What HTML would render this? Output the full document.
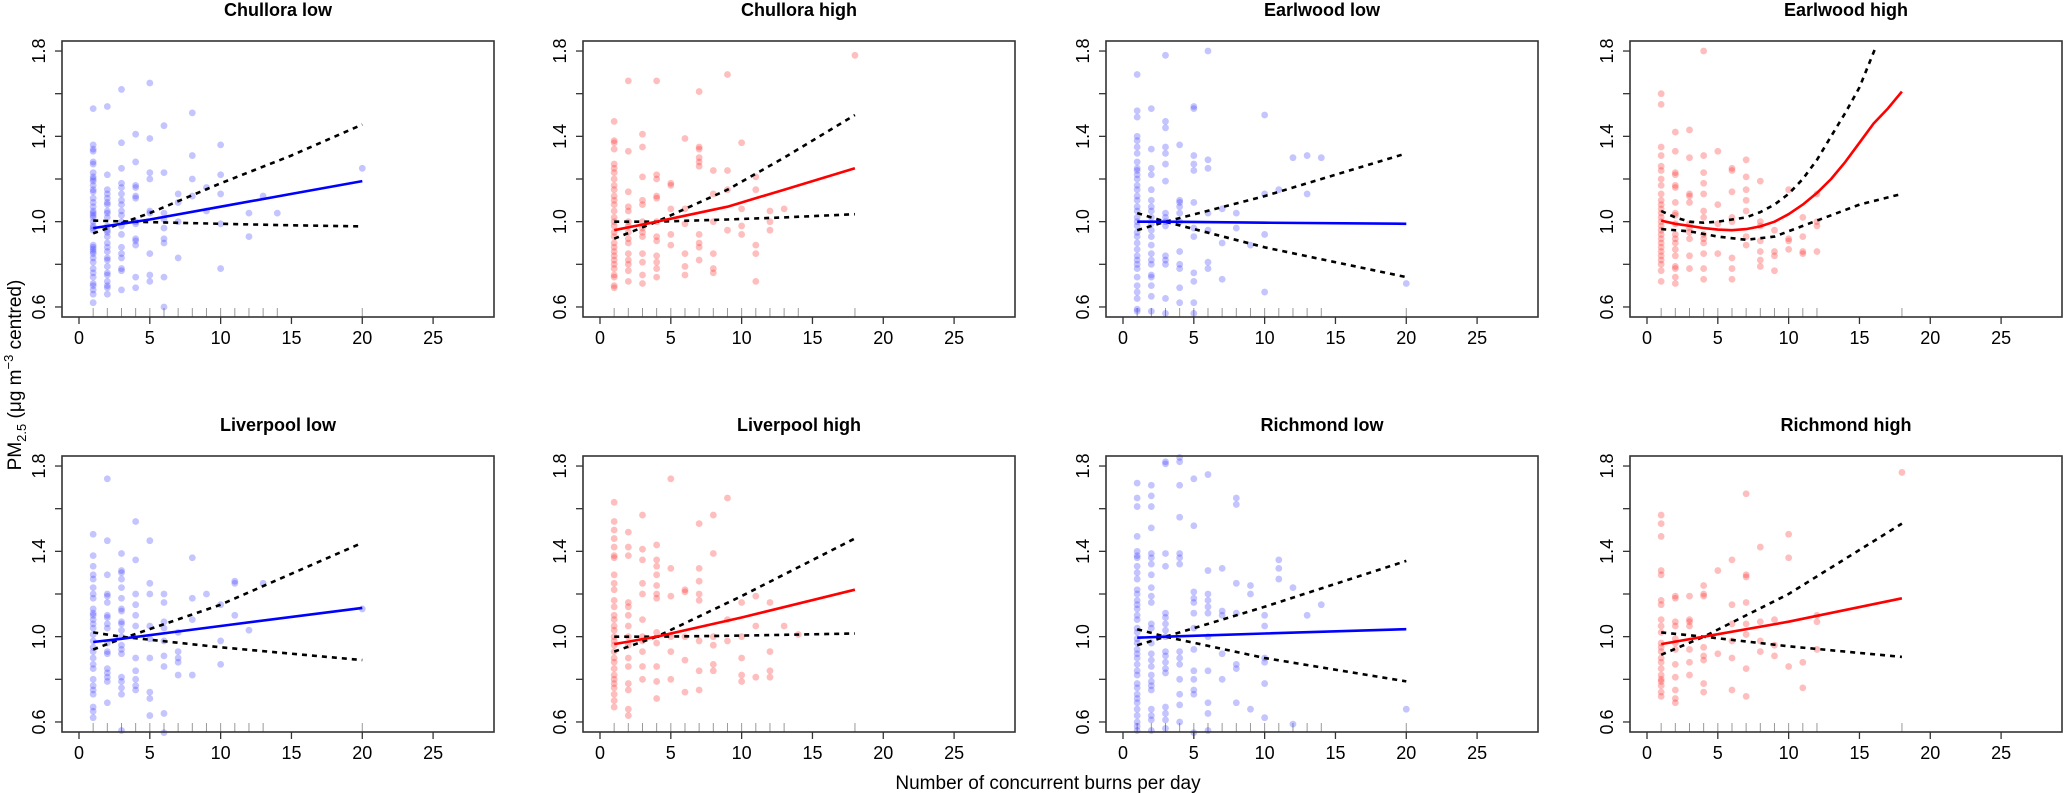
<!DOCTYPE html>
<html><head><meta charset="utf-8">
<style>
html,body{margin:0;padding:0;background:#fff;}
svg{display:block;font-family:"Liberation Sans",Arial,sans-serif;}
</style></head>
<body>
<svg id="chart" width="2067" height="793" viewBox="0 0 2067 793" xmlns="http://www.w3.org/2000/svg">
<text x="1048" y="789" font-size="19" text-anchor="middle">Number of concurrent burns per day</text>
<text transform="translate(21,375) rotate(-90)" font-size="19" text-anchor="middle">PM<tspan font-size="13" dy="5">2.5</tspan><tspan dy="-5"> (μg m</tspan><tspan font-size="13" dy="-8">−3</tspan><tspan dy="8"> centred)</tspan></text>
</svg>
<script>
const titles = ["Chullora low","Chullora high","Earlwood low","Earlwood high","Liverpool low","Liverpool high","Richmond low","Richmond high"];
const colors = ["blue","red","blue","red","blue","red","blue","red"];
const xTicks = [0,5,10,15,20,25];
const yTicks = [0.6,0.8,1.0,1.2,1.4,1.6,1.8];
const yLabels = ["0.6","1.4","1.0","1.8"];
const pts1 = {1:[1.53,1.36,1.34,1.33,1.28,1.27,1.23,1.21,1.2,1.19,1.17,1.15,1.14,1.11,1.09,1.07,1.05,1.04,1.03,1.02,1.0,0.98,0.97,0.96,0.89,0.88,0.87,0.86,0.85,0.83,0.81,0.78,0.76,0.74,0.71,0.7,0.68,0.66,0.62],2:[1.54,1.22,1.15,1.13,1.11,1.09,1.08,1.05,1.04,1.02,0.98,0.96,0.95,0.93,0.9,0.88,0.86,0.83,0.82,0.79,0.76,0.75,0.72,0.7,0.69,0.66],3:[1.62,1.37,1.25,1.18,1.16,1.13,1.1,1.08,1.05,1.03,1.0,0.98,0.94,0.88,0.85,0.83,0.78,0.77,0.68],4:[1.41,1.28,1.17,1.16,1.12,1.11,1.0,0.99,0.92,0.91,0.89,0.74,0.69],5:[1.65,1.39,1.23,1.2,1.05,1.04,0.85,0.75,0.72],6:[1.45,1.23,1.04,1.01,0.97,0.92,0.9,0.74,0.6],7:[1.13,1.09,1.0,0.83],8:[1.51,1.31,1.2,1.12],9:[1.16,1.05],10:[1.36,1.22,1.13,0.99,0.78],12:[1.04,0.93],13:[1.12],14:[1.04],20:[1.25]};
const pts2 = {1:[1.47,1.38,1.37,1.34,1.27,1.25,1.23,1.2,1.17,1.15,1.12,1.1,1.08,1.05,1.02,1.0,0.98,0.95,0.93,0.9,0.88,0.86,0.84,0.82,0.8,0.78,0.75,0.74,0.7,0.69],2:[1.66,1.33,1.14,1.07,1.05,1.0,0.98,0.95,0.92,0.9,0.85,0.82,0.8,0.77,0.72],3:[1.41,1.35,1.21,1.1,1.08,1.0,0.97,0.95,0.93,0.85,0.81,0.75,0.71],4:[1.66,1.22,1.2,1.12,1.11,1.0,0.93,0.91,0.84,0.81,0.78,0.74],5:[1.18,1.17,1.06,0.94,0.89],6:[1.39,1.06,0.99,0.85,0.79,0.75],7:[1.61,1.35,1.34,1.3,1.28,1.26,0.94,0.9,0.88,0.82],8:[1.24,1.13,1.0,0.85,0.78,0.76],9:[1.69,1.24,1.15,0.96],10:[1.37,1.06,0.98,0.94],11:[1.21,1.15,0.89,0.85,0.72],12:[1.05,1.0,0.96],13:[1.06],18:[1.78]};
const pts3 = {1:[1.69,1.52,1.49,1.4,1.38,1.35,1.32,1.28,1.25,1.24,1.22,1.2,1.17,1.15,1.12,1.1,1.07,1.05,1.02,1.0,0.98,0.95,0.93,0.9,0.87,0.84,0.82,0.8,0.78,0.74,0.7,0.67,0.64,0.59,0.58],2:[1.53,1.34,1.25,1.22,1.15,1.1,1.07,1.05,1.02,0.99,0.96,0.93,0.89,0.85,0.82,0.8,0.75,0.74,0.7,0.65,0.58],3:[1.78,1.47,1.44,1.35,1.32,1.27,1.19,1.04,1.02,1.0,0.98,0.84,0.82,0.8,0.64,0.57],4:[1.36,1.1,1.09,1.07,1.04,1.0,0.86,0.8,0.78,0.69,0.62],5:[1.54,1.53,1.31,1.27,1.24,1.09,0.97,0.93,0.76,0.72,0.62,0.57],6:[1.8,1.29,1.25,1.04,0.96,0.81,0.78],7:[1.06,0.9,0.73],8:[1.04,0.97],9:[0.89],10:[1.5,1.13,0.94,0.67],11:[1.15],12:[1.3],13:[1.31,1.13],14:[1.3],20:[0.71]};
const pts4 = {1:[1.6,1.55,1.35,1.31,1.26,1.24,1.2,1.17,1.13,1.1,1.08,1.06,1.04,1.02,1.0,0.98,0.96,0.94,0.92,0.9,0.88,0.86,0.84,0.82,0.8,0.77,0.72],2:[1.42,1.33,1.23,1.22,1.17,1.16,1.09,1.04,1.03,0.99,0.94,0.92,0.9,0.87,0.84,0.79,0.78,0.74,0.71],3:[1.43,1.3,1.13,1.12,1.09,0.99,0.97,0.95,0.92,0.84,0.78],4:[1.8,1.31,1.23,1.18,1.13,1.05,1.02,0.94,0.92,0.9,0.85,0.78,0.73],5:[1.33,1.08,0.99,0.85],6:[1.25,1.24,1.14,1.02,1.0,0.83,0.78,0.73],7:[1.29,1.21,1.15,1.1,1.05,0.93,0.89],8:[1.19,1.0,0.98,0.91,0.86,0.82,0.79],9:[0.96,0.86,0.84,0.77],10:[1.15,0.92,0.91,0.87],11:[1.02,0.93,0.86,0.85],12:[1.13,1.0,0.98,0.86]};
const pts5 = {1:[1.48,1.38,1.33,1.29,1.27,1.23,1.2,1.18,1.13,1.11,1.1,1.08,1.06,1.04,1.01,0.98,0.95,0.93,0.9,0.87,0.85,0.8,0.77,0.75,0.73,0.67,0.65,0.62],2:[1.74,1.45,1.29,1.2,1.19,1.16,1.1,1.09,1.06,1.04,0.97,0.93,0.92,0.85,0.83,0.81,0.79,0.69],3:[1.39,1.31,1.3,1.27,1.23,1.18,1.13,1.12,1.07,1.06,1.03,1.0,0.96,0.94,0.92,0.81,0.79,0.76,0.73,0.56],4:[1.54,1.36,1.2,1.15,1.1,1.05,0.9,0.84,0.8,0.77,0.75],5:[1.45,1.25,1.2,1.05,0.99,0.9,0.74,0.71,0.63],6:[1.2,1.16,1.07,1.04,0.98,0.91,0.86,0.64,0.55],7:[1.02,0.93,0.9,0.88,0.82],8:[1.37,1.18,1.08,0.82],9:[1.2],10:[1.15,0.98,0.87],11:[1.26,1.25,1.1],12:[1.03],13:[1.25],20:[1.13]};
const pts6 = {1:[1.63,1.54,1.5,1.46,1.42,1.38,1.37,1.29,1.25,1.22,1.17,1.14,1.1,1.08,1.05,1.03,1.0,0.98,0.96,0.93,0.9,0.88,0.85,0.82,0.8,0.78,0.76,0.73,0.7,0.67],2:[1.49,1.42,1.38,1.16,1.14,1.1,1.05,1.0,0.96,0.9,0.86,0.78,0.75,0.66,0.63],3:[1.57,1.41,1.36,1.25,1.2,1.08,1.0,0.98,0.93,0.86,0.8],4:[1.43,1.36,1.33,1.29,1.24,1.2,1.18,1.02,0.97,0.86,0.79,0.71],5:[1.74,1.32,1.19,1.0,0.93,0.8],6:[1.22,1.21,1.0,0.89,0.74],7:[1.53,1.32,1.26,1.2,1.17,0.98,0.84,0.75],8:[1.57,1.39,1.0,0.96,0.87,0.84],9:[1.65,1.08,0.98],10:[1.16,1.0,0.9,0.82,0.79],11:[1.19,1.05,0.81],12:[1.16,0.93,0.84,0.81],13:[1.05],14:[1.01]};
const pts7 = {1:[1.72,1.65,1.61,1.47,1.4,1.38,1.37,1.33,1.3,1.27,1.22,1.2,1.17,1.15,1.13,1.1,1.08,1.04,1.02,0.99,0.97,0.94,0.92,0.9,0.87,0.84,0.82,0.78,0.76,0.73,0.71,0.69,0.66,0.63,0.6,0.58,0.56],2:[1.71,1.66,1.61,1.51,1.39,1.37,1.34,1.29,1.23,1.19,1.16,1.06,1.04,0.97,0.92,0.89,0.86,0.82,0.79,0.77,0.75,0.66,0.63,0.61,0.56],3:[1.82,1.81,1.39,1.33,1.11,1.09,1.06,1.03,1.0,0.93,0.91,0.88,0.85,0.83,0.67,0.64,0.61,0.57],4:[1.84,1.82,1.71,1.56,1.39,1.37,1.34,0.93,0.9,0.87,0.8,0.73,0.68,0.6],5:[1.74,1.52,1.21,1.18,1.16,1.11,1.04,0.94,0.84,0.8,0.75,0.73,0.55],6:[1.76,1.31,1.2,1.17,1.14,1.11,1.0,0.84,0.69,0.64,0.56],7:[1.32,1.12,1.1,0.92,0.8],8:[1.65,1.62,1.25,1.11,0.87,0.85,0.69],9:[1.24,1.2,0.66],10:[1.1,1.05,0.9,0.88,0.78,0.62],11:[1.36,1.32,1.27],12:[1.23,0.59],13:[1.1],14:[1.15],20:[0.66]};
const pts8 = {1:[1.57,1.53,1.47,1.31,1.29,1.17,1.15,1.08,1.05,1.02,0.97,0.95,0.93,0.9,0.88,0.85,0.82,0.8,0.79,0.77,0.74,0.72],2:[1.19,1.18,1.07,1.05,0.99,0.97,0.94,0.87,0.81,0.75,0.71,0.69],3:[1.19,1.08,1.07,1.05,0.94,0.88,0.82],4:[1.24,1.2,1.19,0.95,0.91,0.89,0.78,0.74],5:[1.31,0.92],6:[1.36,1.15,1.06,0.98,0.9,0.75],7:[1.67,1.29,1.28,1.16,1.06,1.01,0.85,0.72],8:[1.42,1.07,0.98,0.93],9:[1.08,0.96,0.91],10:[1.48,1.37,0.86],11:[0.88,0.76],12:[1.1,1.07,0.94],18:[1.77]};
const points = [pts1,pts2,pts3,pts4,pts5,pts6,pts7,pts8];
const fitX = [[1,5,10,15,20],[1,4,9,13,18],[1,3,10,20],[1,2,3,4,5,6,7,8,9,10,11,12,13,14,15,16,17,18],[1,3,10,20],[1,4,10,18],[1,3,10,20],[1,4,10,18]];
const fitY = [[0.97,1.01,1.07,1.13,1.19],[0.96,1.0,1.07,1.15,1.25],[1.0,1.0,0.995,0.99],[1.005,0.99,0.98,0.97,0.963,0.96,0.965,0.978,1.0,1.035,1.08,1.135,1.2,1.28,1.37,1.46,1.53,1.61],[0.975,0.99,1.05,1.135],[0.965,1.0,1.09,1.22],[0.995,1.0,1.015,1.035],[0.965,1.0,1.07,1.18]];
const hiX = [[1,5,10,15,20],[1,4,9,13,18],[1,3,10,20],[1,2,3,4,5,6,7,8,9,10,11,12,13,14,15,16.1],[1,3,10,20],[1,4,10,18],[1,3,10,20],[1,4,10,18]];
const hiY = [[0.945,1.04,1.18,1.31,1.455],[0.92,1.0,1.15,1.3,1.5],[0.96,1.0,1.12,1.32],[1.05,1.02,1.0,0.995,1.0,1.01,1.02,1.045,1.08,1.13,1.2,1.29,1.4,1.51,1.63,1.81],[0.94,0.99,1.15,1.44],[0.93,1.0,1.19,1.46],[0.96,1.0,1.14,1.355],[0.915,1.0,1.2,1.53]];
const loX = [[1,5,10,15,20],[1,4,9,13,18],[1,3,10,20],[1,3,5,7,9,11,13,15,18],[1,3,10,20],[1,4,10,18],[1,3,10,20],[1,4,10,18]];
const loY = [[1.005,0.998,0.99,0.983,0.978],[1.0,1.0,1.01,1.02,1.035],[1.04,1.0,0.88,0.74],[0.965,0.955,0.93,0.915,0.93,0.98,1.03,1.08,1.13],[1.02,1.0,0.95,0.89],[1.0,1.0,1.005,1.015],[1.035,1.0,0.9,0.79],[1.02,1.0,0.955,0.905]];
const rugs = [[1,2,3,4,5,6,7,8,9,10,11,12,13,14,20],[1,2,3,4,5,6,7,8,9,10,11,12,13,14,18],[1,2,3,4,5,6,7,8,9,10,11,12,13,14,20],[1,2,3,4,5,6,7,8,9,10,11,12,18],[1,2,3,4,5,6,7,8,9,10,11,12,13,20],[1,2,3,4,5,6,7,8,9,10,11,12,13,18],[1,2,3,4,5,6,7,8,9,10,11,12,13,14,20],[1,2,3,4,5,6,7,8,9,10,11,12,18]];

const NS = "http://www.w3.org/2000/svg";
const svg = document.getElementById('chart');
const lefts = [62,583,1106,1630];
const tops = [41,456];
const W = 432, H = 276;
const XMIN = -1.2, XMAX = 29.3, YMIN = 0.553, YMAX = 1.847;
function mk(tag, attrs, parent){const e=document.createElementNS(NS,tag);for(const k in attrs)e.setAttribute(k,attrs[k]);(parent||svg).appendChild(e);return e;}

for (let p=0;p<8;p++){
  const L = lefts[p%4], T = tops[Math.floor(p/4)];
  const sx = v => L + (v-XMIN)/(XMAX-XMIN)*W;
  const sy = v => T + H - (v-YMIN)/(YMAX-YMIN)*H;
  const g = mk('g',{});
  
  
  const t = mk('text',{x:L+W/2,y:T-25,'font-size':18,'font-weight':'bold','text-anchor':'middle'},g);
  t.textContent = titles[p];
  
  
  rugs[p].forEach(v=>{
    const r = mk('line',{x1:sx(v),x2:sx(v),y1:T+H,y2:T+H-9,stroke:'#999','stroke-width':1},g);
    
    
  });
  const fill = colors[p]==='blue' ? 'rgba(60,60,255,0.3)' : 'rgba(255,40,40,0.3)';
  const pts = points[p];
  Object.keys(pts).forEach(k=>{
    pts[k].forEach(v=>{
      const c = mk('circle',{cx:sx(+k),cy:sy(v),r:3.4,fill:fill},g);
      
      
    });
  });
  const path = (xs,ys) => xs.map((x,i)=>(i?'L':'M')+sx(x).toFixed(1)+','+sy(ys[i]).toFixed(1)).join(' ');
  const hi = mk('path',{d:path(hiX[p],hiY[p]),fill:'none',stroke:'#000','stroke-width':2.6,'stroke-dasharray':'5,5','stroke-linejoin':'round'},g);
  
  
  const lo = mk('path',{d:path(loX[p],loY[p]),fill:'none',stroke:'#000','stroke-width':2.6,'stroke-dasharray':'5,5','stroke-linejoin':'round'},g);
  
  
  const fit = mk('path',{d:path(fitX[p],fitY[p]),fill:'none',stroke:colors[p]==='blue'?'#0000ff':'#ff0000','stroke-width':2.6,'stroke-linejoin':'round'},g);
  
  
  const box = mk('rect',{x:L,y:T,width:W,height:H,fill:'none',stroke:'#333','stroke-width':1.6},g);
  
  
  xTicks.forEach(v=>{
    mk('line',{x1:sx(v),x2:sx(v),y1:T+H,y2:T+H+7,stroke:'#333','stroke-width':1.3},g);
    const lb = mk('text',{x:sx(v),y:T+H+27,'font-size':18,'text-anchor':'middle'},g);
    lb.textContent = v;
    
    
  });
  yTicks.forEach(v=>{
    mk('line',{x1:L,x2:L-7,y1:sy(v),y2:sy(v),stroke:'#333','stroke-width':1.3},g);
  });
  yLabels.forEach(s=>{
    const lb = mk('text',{transform:'translate('+(L-17)+','+sy(+s)+') rotate(-90)','font-size':18,'text-anchor':'middle'},g);
    lb.textContent = s;
    
    
  });
}
</script>
</body></html>
